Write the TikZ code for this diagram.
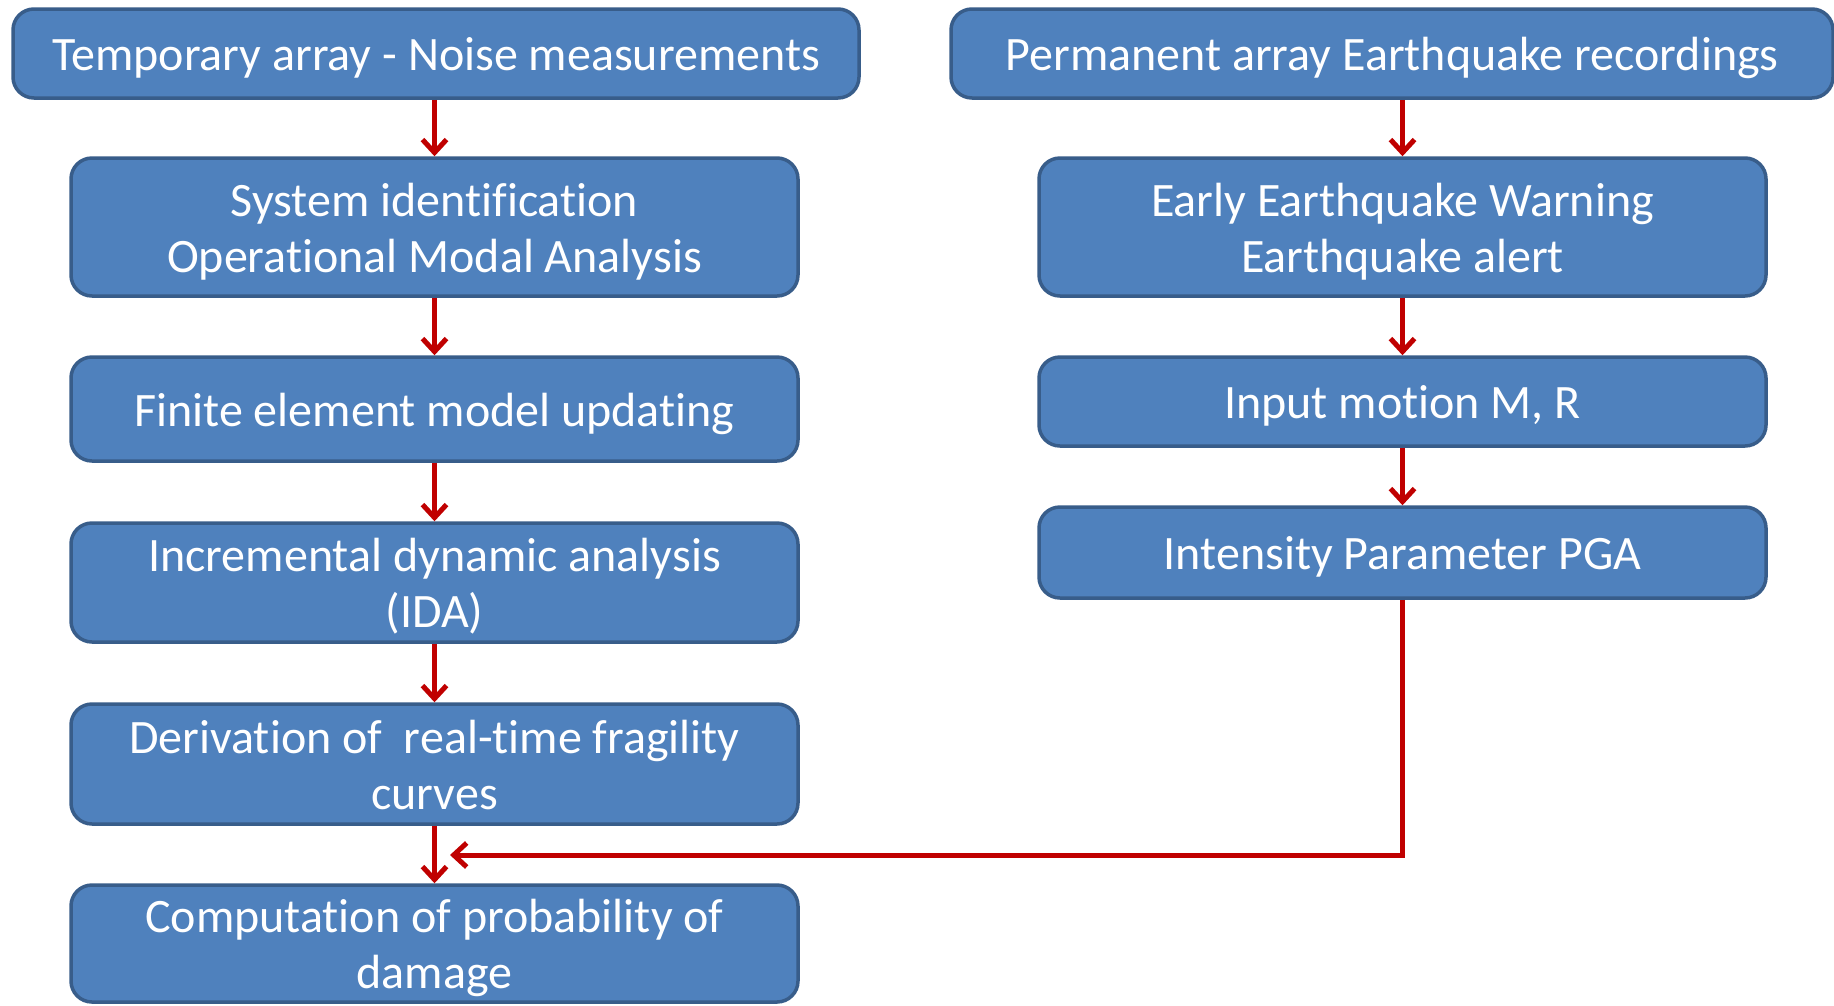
\documentclass[tikz,border=0pt]{standalone}
\usepackage{fontspec}
\setmainfont{Carlito}[Ligatures=NoCommon]
\usetikzlibrary{arrows.meta}
\definecolor{boxblue}{HTML}{4F81BD}
\definecolor{boxline}{HTML}{385D8A}
\definecolor{arrred}{HTML}{C00000}
\newcommand\lstrut{\rule[-11pt]{0pt}{56pt}}
\begin{document}
\begin{tikzpicture}[x=1pt,y=-1pt,
  box/.style={draw=boxline, fill=boxblue, line width=3.5pt, rounded corners=21pt,
    text=white, align=center, inner sep=0pt,
    font=\fontsize{48}{56}\selectfont},
  arr/.style={draw=arrred, line width=5pt,
    -{Straight Barb[length=13pt,width=24pt,line width=5pt]}}]
\fill[white] (0,0) rectangle (1834,1005);
\useasboundingbox (0,0) rectangle (1834,1005);
% left column
\node[box, minimum width=846pt, minimum height=89pt] (A) at (436,53.5) {\lstrut Temporary array - Noise measurements};
\node[box, minimum width=727pt, minimum height=138pt] (B) at (434.5,227) {\lstrut System identification\\\lstrut Operational Modal Analysis};
\node[box, minimum width=727pt, minimum height=104pt] (C) at (434.5,409) {\lstrut Finite element model updating};
\node[box, minimum width=727pt, minimum height=119pt] (D) at (434.5,582.5) {\lstrut Incremental dynamic analysis\\\lstrut (IDA)};
\node[box, minimum width=727pt, minimum height=120pt] (E) at (434.5,764) {\lstrut Derivation of\ \ real-time fragility\\\lstrut curves};
\node[box, minimum width=727pt, minimum height=117pt] (F) at (434.5,943.5) {\lstrut Computation of probability of\\\lstrut damage};
% right column
\node[box, minimum width=882pt, minimum height=89pt] (G) at (1392,53.5) {\lstrut Permanent array Earthquake recordings};
\node[box, minimum width=727pt, minimum height=138pt] (H) at (1402.5,227) {\lstrut Early Earthquake Warning\\\lstrut Earthquake alert};
\node[box, minimum width=727pt, minimum height=89pt] (I) at (1402.5,401.5) {\lstrut Input motion M, R};
\node[box, minimum width=727pt, minimum height=91pt] (J) at (1402.5,552.5) {\lstrut Intensity Parameter PGA};
% connectors
\draw[arr] (A.south -| B.north) -- (B.north);
\draw[arr] (B.south) -- (C.north);
\draw[arr] (C.south) -- (D.north);
\draw[arr] (D.south) -- (E.north);
\draw[arr] (E.south) -- (F.north);
\draw[arr] (G.south -| H.north) -- (H.north);
\draw[arr] (H.south) -- (I.north);
\draw[arr] (I.south) -- (J.north);
\coordinate (m) at (450,855);
\draw[arr] (J.south) |- (m);
\end{tikzpicture}
\end{document}
